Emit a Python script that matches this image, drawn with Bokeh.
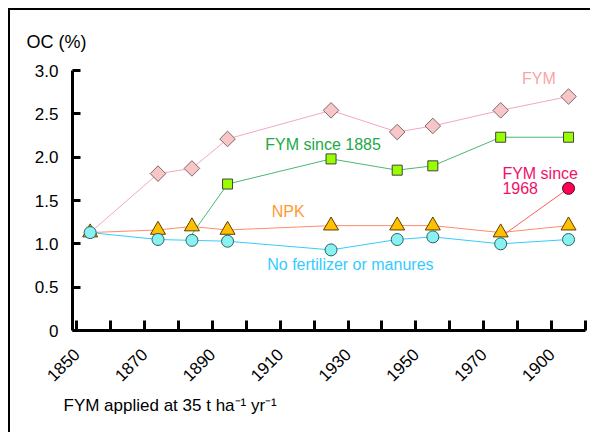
import math
from bokeh.plotting import figure
from bokeh.models import Range1d, FixedTicker, Label, Title
from bokeh.embed import file_html
from bokeh.resources import INLINE

# ---- data ----
years = [1854, 1874, 1884, 1894.5, 1925, 1944.5, 1955, 1975, 1995]
fym = [1.13, 1.81, 1.87, 2.21, 2.54, 2.29, 2.36, 2.54, 2.70]
npk = [1.13, 1.16, 1.20, 1.16, 1.21, 1.21, 1.21, 1.13, 1.21]
control = [1.13, 1.05, 1.04, 1.03, 0.93, 1.05, 1.08, 1.00, 1.05]

fym1885_years = [1884, 1894.5, 1925, 1944.5, 1955, 1975, 1995]
fym1885 = [1.11, 1.69, 1.98, 1.85, 1.90, 2.23, 2.23]

fym1968_years = [1975, 1995]
fym1968 = [1.08, 1.64]

x_major_ticks = [1850, 1870, 1890, 1910, 1930, 1950, 1970, 1990]
x_tick_labels = ["1850", "1870", "1890", "1910", "1930", "1950", "1970", "1900"]
x_minor_ticks = [1860, 1880, 1900, 1920, 1940, 1960, 1980, 2000]
y_ticks = [0, 0.5, 1.0, 1.5, 2.0, 2.5, 3.0]
y_tick_labels = ["0", "0.5", "1.0", "1.5", "2.0", "2.5", "3.0"]

FONT = "Liberation Sans"

p = figure(width=582, height=424, output_backend="svg", toolbar_location=None,
           x_range=Range1d(1848.8, 2000), y_range=Range1d(0, 3.0),
           min_border_left=62, min_border_right=7, min_border_top=59, min_border_bottom=104)
p.margin = (8, 0, 0, 8)
p.styles = {"border-top": "2px solid black", "border-left": "2px solid black"}
p.outline_line_color = None
p.xgrid.visible = False
p.ygrid.visible = False
p.background_fill_color = "white"
p.border_fill_color = "white"

# axes
for ax in (p.xaxis[0], p.yaxis[0]):
    ax.axis_line_width = 3
    ax.axis_line_color = "black"
    ax.major_tick_line_width = 3
    ax.major_tick_line_color = "black"
    ax.major_tick_out = 0
    ax.major_label_text_font = FONT
    ax.major_label_text_font_size = "17px"
    ax.major_label_text_color = "black"

p.yaxis.ticker = FixedTicker(ticks=y_ticks)
p.yaxis.major_label_overrides = dict(zip(y_ticks, y_tick_labels))
p.yaxis.major_tick_in = 8
p.yaxis.minor_tick_line_color = None
p.yaxis.major_label_standoff = 14

p.xaxis.ticker = FixedTicker(ticks=x_major_ticks, minor_ticks=x_minor_ticks)
p.xaxis.major_label_overrides = dict(zip(x_major_ticks, x_tick_labels))
p.xaxis.major_tick_in = 10
p.xaxis.minor_tick_in = 10
p.xaxis.minor_tick_out = 0
p.xaxis.minor_tick_line_width = 3
p.xaxis.minor_tick_line_color = "black"
p.xaxis.major_label_orientation = math.pi / 4
p.xaxis.major_label_text_align = "right"
p.xaxis.major_label_text_baseline = "top"
p.xaxis.major_label_standoff = 21

# titles outside the frame
top_title = Title(text="OC (%)", align="left", offset=-46, standoff=38,
                  text_font=FONT, text_font_size="18px", text_font_style="normal",
                  text_color="black")
p.add_layout(top_title, "above")
bottom_title = Title(text="FYM applied at 35 t ha\u207b\u00b9 yr\u207b\u00b9", align="left",
                     offset=-9, standoff=8, text_font=FONT, text_font_size="17px",
                     text_font_style="normal", text_color="black")
p.add_layout(bottom_title, "below")

# lines
p.line(years, fym, line_color="#f4a6c6", line_width=1)
p.line(fym1885_years, fym1885, line_color="#4cb86c", line_width=1)
p.line(years, npk, line_color="#ff8c69", line_width=1)
p.line(years, control, line_color="#33ccff", line_width=1)
p.line(fym1968_years, fym1968, line_color="#ff5c5c", line_width=1)

# markers
p.scatter(years[1:], fym[1:], marker="square", angle=math.pi / 4, size=11,
          fill_color="#f8c6c6", line_color="#7a6a6a", line_width=1)
p.scatter(fym1885_years[1:], fym1885[1:], marker="square", size=10,
          fill_color="#99ff00", line_color="#404040", line_width=1)
p.scatter(years, npk, marker="triangle", size=15,
          fill_color="#ffc000", line_color="#5a4000", line_width=1)
p.scatter(years, control, marker="circle", size=12,
          fill_color="#88f2f2", line_color="#2f5f5f", line_width=1)
p.scatter(fym1968_years[1:], fym1968[1:], marker="circle", size=12,
          fill_color="#ff0055", line_color="#550022", line_width=1)

def lab(x, y, text, color):
    p.add_layout(Label(x=x, y=y, text=text, text_color=color, text_font=FONT,
                       text_font_size="16px", text_baseline="alphabetic", text_align="left"))

lab(1981.3, 2.91, "FYM", "#f7a6a6")
lab(1905.6, 2.15, "FYM since 1885", "#22a849")
lab(1975.5, 1.81, "FYM since", "#f0106a")
lab(1975.5, 1.64, "1968", "#f0106a")
lab(1907.5, 1.37, "NPK", "#ff9933")
lab(1906.2, 0.765, "No fertilizer or manures", "#33ccff")

open("out.html", "w").write(file_html(p, INLINE))
